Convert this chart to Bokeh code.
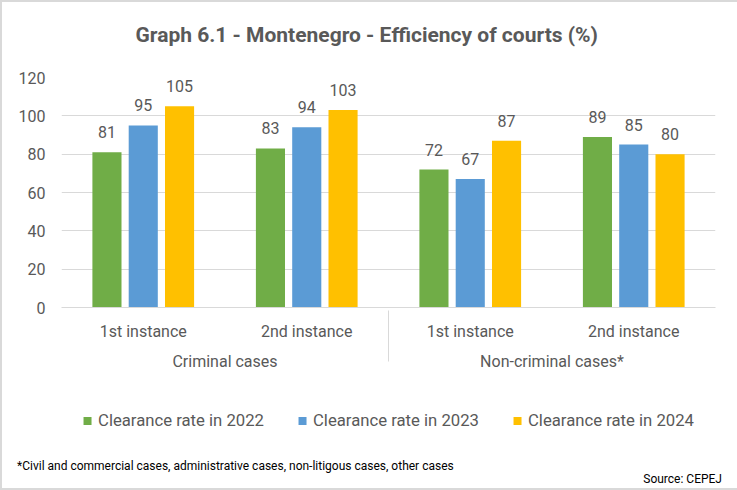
from bokeh.plotting import figure
from bokeh.layouts import column
from bokeh.models import (FactorRange, ColumnDataSource, LabelSet, Legend, LegendItem, Label,
                          FixedTicker, Div)
from bokeh.core.properties import value
from bokeh.transform import dodge
from bokeh.embed import file_html
from bokeh.resources import INLINE

groups = ["Criminal cases", "Non-criminal cases*"]
instances = ["1st instance", "2nd instance"]
rate_2022 = [81, 83, 72, 89]
rate_2023 = [95, 94, 67, 85]
rate_2024 = [105, 103, 87, 80]
series_names = ["Clearance rate in 2022", "Clearance rate in 2023", "Clearance rate in 2024"]
y_ticks = [0, 20, 40, 60, 80, 100, 120]
title_text = "Graph 6.1 - Montenegro - Efficiency of courts (%)"
footnote_text = "*Civil and commercial cases, administrative cases, non-litigous cases, other cases"
source_text = "Source: CEPEJ"

factors = [(g, i) for g in groups for i in instances]
colors = ["#70AD47", "#5B9BD5", "#FFC000"]
offsets = [-0.222, 0.0, 0.222]
cols = ["2022", "2023", "2024"]
TXT = "#595959"
FONT = "Roboto"
W = 735
BL, BR = 59, 22

src = ColumnDataSource(dict(x=factors, r2022=rate_2022, r2023=rate_2023, r2024=rate_2024,
                            l2022=[str(v) for v in rate_2022],
                            l2023=[str(v) for v in rate_2023],
                            l2024=[str(v) for v in rate_2024]))
xr = FactorRange(*factors, range_padding=0, group_padding=0, factor_padding=0)

# ---- title strip
t = figure(width=W, height=58, x_range=(0, 1), y_range=(0, 1), output_backend="svg",
           toolbar_location=None, x_axis_location=None, y_axis_location=None,
           min_border_left=BL, min_border_right=BR, min_border_top=0, min_border_bottom=0,
           outline_line_color=None)
t.grid.visible = False
t.add_layout(Label(x=74, y=26, x_units="screen", y_units="screen", text=title_text,
                   text_align="left", text_baseline="middle", text_font=FONT,
                   text_font_size="21px", text_font_style="bold", text_color=TXT))

# ---- main chart
p = figure(x_range=xr, y_range=(0, 120), width=W, height=325, output_backend="svg",
           toolbar_location=None,
           min_border_left=BL, min_border_right=BR, min_border_top=17, min_border_bottom=78)

for col, c, off in zip(cols, colors, offsets):
    p.vbar(x=dodge("x", off, range=xr), top="r" + col, width=0.178, source=src,
           fill_color=c, line_color=None)
    lbl = LabelSet(x=dodge("x", off, range=xr), y="r" + col, text="l" + col, source=src,
                   text_align="center", text_baseline="middle", y_offset=20,
                   text_font=value(FONT), text_font_size=value("16px"), text_color=TXT)
    p.add_layout(lbl)

p.outline_line_color = None
p.xgrid.grid_line_color = None
p.ygrid.grid_line_color = "#D9D9D9"
p.yaxis.ticker = FixedTicker(ticks=y_ticks)
p.yaxis.axis_line_color = None
p.yaxis.major_tick_line_color = None
p.yaxis.minor_tick_line_color = None
p.yaxis.major_label_standoff = 10
p.yaxis.major_label_text_font = FONT
p.yaxis.major_label_text_font_size = "16px"
p.yaxis.major_label_text_color = TXT

xa = p.xaxis[0]
xa.axis_line_color = "#D9D9D9"
xa.major_tick_line_color = None
xa.minor_tick_line_color = None
xa.major_label_text_font = FONT
xa.major_label_text_font_size = "16px"
xa.major_label_text_color = TXT
xa.major_label_standoff = 8
xa.group_text_font = FONT
xa.group_text_font_size = "16px"
xa.group_text_color = TXT
xa.group_text_font_style = "normal"
xa.separator_line_color = "#D9D9D9"
xa.separator_line_width = 1

# ---- legend strip (series drawn hidden; only their legend swatches show)
g = figure(width=W, height=65, x_range=xr, y_range=(0, 120), output_backend="svg",
           toolbar_location=None, x_axis_location=None, y_axis_location=None,
           min_border_left=BL, min_border_right=BR, min_border_top=5, min_border_bottom=0,
           outline_line_color=None)
g.grid.visible = False
items = []
for col, c, off, name in zip(cols, colors, offsets, series_names):
    rr = g.vbar(x=dodge("x", off, range=xr), top="r" + col, width=0.178, source=src,
                fill_color=c, line_color=None, visible=False)
    items.append(LegendItem(label=name, renderers=[rr]))
legend = Legend(items=items, orientation="horizontal", location="center",
                label_text_font=FONT, label_text_font_size="16.7px", label_text_color=TXT,
                glyph_width=10, glyph_height=10, label_standoff=6, spacing=33,
                border_line_color=None, background_fill_alpha=0, margin=0, padding=4,
                inactive_fill_alpha=0)
g.add_layout(legend)

# ---- footnote strip
note_html = (
    '<div style="position:relative;width:%dpx;height:38px;font-family:Roboto,sans-serif;'
    'font-size:12px;color:#000000;">'
    '<span style="position:absolute;left:15px;top:8px;white-space:nowrap;">%s</span>'
    '<span style="position:absolute;right:15px;top:21px;white-space:nowrap;">%s</span>'
    '</div>' % (W, footnote_text, source_text))
d = Div(text=note_html, width=W, height=38, margin=(0, 0, 0, 0))

layout = column(t, p, g, d, spacing=0,
                styles={"border-left": "2px solid #D9D9D9", "border-top": "2px solid #D9D9D9",
                        "border-bottom": "2px solid #D9D9D9"})
open("out.html", "w").write(file_html(layout, INLINE))
